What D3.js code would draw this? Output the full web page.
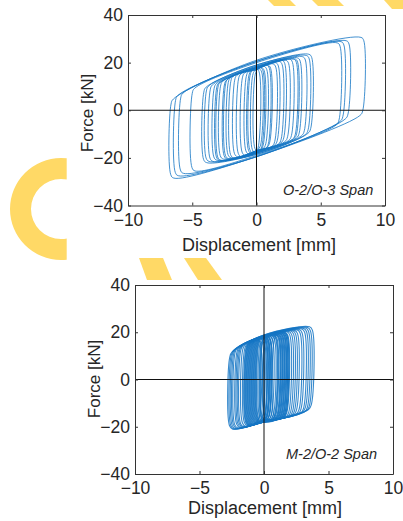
<!DOCTYPE html>
<html><head><meta charset="utf-8">
<script src="https://cdn.jsdelivr.net/npm/d3@7"></script>
<style>body{margin:0;background:#fff} svg{display:block}</style>
</head><body>
<svg id="c" width="403" height="521"></svg>
<script>
const xTicks = [-10, -5, 0, 5, 10];
const yTicks = [-40, -20, 0, 20, 40];
const xDomain = [-10, 10];
const yDomain = [-40, 40];
const xTitle = "Displacement [mm]";
const yTitle = "Force [kN]";
const panelLabels = ["O-2/O-3 Span", "M-2/O-2 Span"];

// each loop: [xLeft, xRight, yUpperLeft, yUpperAt0, yUpperRight, yLowerLeft, yLowerAt0, yLowerRight]
const loopsTop = [
  [-6.65, 8.35, 4, 21, 30.6, -28.5, -19.5, -1.5],
  [-6.3, 7.2, 5.5, 20.5, 29.2, -27.5, -19.5, -3],
  [-5.9, 6.8, 6.5, 20.5, 28.8, -26.5, -19.5, -4],
  [-5.0, 6.5, 8.5, 20, 28.3, -25.5, -19, -5.5],
  [-4.1, 4.3, 9, 19, 23.5, -22, -18.5, -9],
  [-3.9, 4.1, 9.5, 19, 23, -21.5, -18.5, -9.5],
  [-3.6, 3.8, 10, 18.5, 22.5, -21.5, -18, -10],
  [-3.3, 3.4, 10.5, 18.5, 22, -21, -18, -11],
  [-3.0, 3.1, 11, 18, 21.5, -21, -18, -11.5],
  [-2.8, 2.8, 11.5, 18, 21.5, -20.5, -17.5, -12],
  [-2.5, 2.5, 12, 18, 21, -20.5, -17.5, -12.5],
  [-2.2, 2.2, 13, 18, 21, -20, -17.5, -13],
  [-2.0, 2.0, 13.5, 17.5, 20.5, -20, -17, -13.5],
  [-1.7, 1.7, 14, 17.5, 20, -19.5, -17, -14],
  [-1.4, 1.5, 14.5, 17.5, 19.5, -19.5, -17, -14.5],
  [-1.1, 1.1, 15, 17, 19, -19, -17, -15],
  [-0.8, 0.8, 15.5, 17, 18.5, -18.5, -17, -15.5],
  [-0.5, 0.6, 16, 17, 18, -18, -17, -16],
  [-0.3, 0.4, 16, 17, 17.5, -18, -17, -16],
  [-0.1, 0.5, 16.5, 17, 18, -17.5, -17, -16.5],
  [-3.1, 1.0, 10.8, 18, 19, -21, -18, -15.5],
  [-2.4, 0.2, 12.5, 17.5, 17.6, -20.3, -17.5, -17.3],
  [-0.6, 3.2, 15.8, 17.5, 21.6, -18.3, -17.5, -11.3]
];

const loopsBottom = [
  [-2.65, 3.75, 11, 18.8, 22.3, -21, -18, -12],
  [-2.55, 3.6, 11.5, 18.8, 22, -21, -18, -12.5],
  [-2.45, 3.45, 12, 18.6, 21.8, -20.8, -18, -13],
  [-2.35, 3.3, 12.3, 18.6, 21.6, -20.6, -18, -13],
  [-2.25, 3.15, 12.6, 18.5, 21.4, -20.5, -18, -13.5],
  [-2.1, 2.95, 13, 18.5, 21.2, -20.3, -17.8, -13.8],
  [-2.0, 2.8, 13.2, 18.4, 21, -20.2, -17.8, -14],
  [-1.9, 2.6, 13.5, 18.4, 20.8, -20, -17.8, -14.3],
  [-1.8, 2.45, 13.8, 18.3, 20.6, -20, -17.7, -14.5],
  [-1.65, 2.3, 14, 18.3, 20.5, -19.8, -17.7, -14.8],
  [-1.5, 2.15, 14.3, 18.2, 20.3, -19.6, -17.6, -15],
  [-1.4, 2.0, 14.6, 18.2, 20.2, -19.5, -17.6, -15.2],
  [-1.3, 1.85, 14.8, 18.1, 20, -19.4, -17.5, -15.4],
  [-1.2, 1.7, 15, 18, 19.8, -19.2, -17.5, -15.6],
  [-1.1, 1.55, 15.3, 18, 19.6, -19, -17.4, -15.8],
  [-1.0, 1.4, 15.5, 17.9, 19.4, -18.9, -17.4, -16],
  [-0.9, 1.25, 15.8, 17.9, 19.2, -18.8, -17.3, -16.1],
  [-0.8, 1.1, 16, 17.8, 19, -18.6, -17.3, -16.2],
  [-0.7, 0.95, 16.2, 17.8, 18.8, -18.5, -17.2, -16.4],
  [-0.6, 0.8, 16.4, 17.7, 18.6, -18.3, -17.2, -16.5],
  [-0.5, 0.65, 16.6, 17.6, 18.4, -18.2, -17.1, -16.6],
  [-0.4, 0.5, 16.8, 17.5, 18.2, -18, -17, -16.7],
  [-0.3, 0.35, 17, 17.5, 18, -17.9, -17, -16.8],
  [-0.2, 0.25, 17, 17.4, 17.8, -17.8, -17, -16.9],
  [-1.15, 0.3, 15.2, 17.6, 18, -19.1, -17.4, -16.9],
  [-0.95, 0.15, 15.6, 17.6, 17.8, -18.9, -17.3, -17],
  [-0.1, 1.6, 17.2, 17.4, 19.7, -17.5, -17.2, -15.7],
  [0.05, 1.45, 17.4, 17.5, 19.5, -17.4, -17.3, -15.9],
  [0.2, 1.3, 17.6, 17.6, 19.3, -17.3, -17.3, -16],
  [0.35, 1.15, 17.8, 17.8, 19.1, -17.2, -17.2, -16.2],
  [0.5, 1.0, 18, 18, 18.9, -17, -17, -16.4],
  [-0.85, -0.05, 15.9, 17.3, 17.3, -18.7, -17.2, -17.2],
  [-0.65, 0.1, 16.3, 17.4, 17.6, -18.4, -17.2, -17.1],
  [0.65, 1.7, 18.2, 18.2, 19.8, -16.8, -16.8, -15.6],
  [-1.25, -0.3, 15, 17, 17, -19.3, -17.5, -17.5],
  [-1.35, 1.78, 14.7, 18.1, 19.9, -19.4, -17.5, -15.5],
  [-1.05, 1.62, 15.4, 18, 19.7, -19, -17.4, -15.7],
  [-0.75, 1.48, 16.1, 17.8, 19.5, -18.6, -17.3, -15.9],
  [-0.45, 1.33, 16.7, 17.7, 19.3, -18.1, -17.2, -16.1],
  [-0.15, 1.18, 17.1, 17.5, 19.1, -17.7, -17.2, -16.3],
  [0.1, 0.9, 17.5, 17.5, 18.8, -17.4, -17.3, -16.5],
  [0.8, 1.8, 18.4, 18.4, 20, -16.6, -16.6, -15.4],
  [-0.55, 0.45, 16.5, 17.5, 18.1, -18.2, -17.1, -16.8]
];

const svg = d3.select("#c");
const FONT = "'Liberation Sans', Arial, Helvetica, sans-serif";
const BLUE = "#1576c4";

const panels = [
  {l: 128, r: 385, t: 15, b: 205.5, loops: loopsTop, sw: 0.95, label: panelLabels[0], lx: 283, ly: 194.5, xt: 259, xtY: 251, ytX: 93, ytY: 113, tp: 8.5},
  {l: 135, r: 393, t: 285, b: 474, loops: loopsBottom, sw: 1.1, label: panelLabels[1], lx: 286, ly: 459, xt: 265, xtY: 514, ytX: 100, ytY: 379, tp: 8}
];

function loopPoints(d) {
  const [xL, xR, uL, u0, uR, lL, l0, lR] = d;
  const p = [];
  const mid = xL < -0.5 && xR > 0.5;
  p.push([xL, uL - 1.4]);
  p.push([xL + 0.18, uL + 0.7]);
  if (mid) p.push([0, u0]);
  p.push([xR - 0.22, uR]);
  p.push([xR, uR - 1.4]);
  p.push([xR - 0.08, lR + 1.4]);
  p.push([xR - 0.3, lR - 0.7]);
  if (mid) p.push([0, l0]);
  p.push([xL + 0.22, lL]);
  p.push([xL - 0.02, lL + 1.4]);
  return p;
}

panels.forEach(P => {
  const x = d3.scaleLinear().domain(xDomain).range([P.l, P.r]);
  const y = d3.scaleLinear().domain(yDomain).range([P.b, P.t]);
  const g = svg.append("g");

  const clipId = "clip" + P.t;
  svg.append("clipPath").attr("id", clipId).append("rect")
    .attr("x", P.l).attr("y", P.t).attr("width", P.r - P.l).attr("height", P.b - P.t);

  const line = d3.line().x(d => x(d[0])).y(d => y(d[1]))
    .curve(d3.curveCatmullRomClosed.alpha(0.5));

  g.append("g").attr("clip-path", `url(#${clipId})`)
    .selectAll("path").data(P.loops).join("path")
    .attr("d", d => line(loopPoints(d)))
    .attr("fill", "none").attr("stroke", BLUE)
    .attr("stroke-width", P.sw).attr("stroke-opacity", 0.85);

  g.append("line").attr("x1", x(0)).attr("x2", x(0)).attr("y1", P.t).attr("y2", P.b)
    .attr("stroke", "#111").attr("stroke-width", 1);
  g.append("line").attr("x1", P.l).attr("x2", P.r).attr("y1", y(0)).attr("y2", y(0))
    .attr("stroke", "#111").attr("stroke-width", 1);

  const styleAxis = sel => {
    sel.selectAll(".domain").attr("stroke", "#333").attr("stroke-width", 1);
    sel.selectAll(".tick line").attr("stroke", "#333");
    sel.selectAll("text").attr("fill", "#262626").attr("font-family", FONT).attr("font-size", 17.5);
  };

  g.append("g").attr("transform", `translate(0,${P.b})`)
    .call(d3.axisBottom(x).tickValues(xTicks).tickSizeInner(-3).tickSizeOuter(0).tickPadding(P.tp))
    .call(styleAxis);
  g.append("g").attr("transform", `translate(${P.l},0)`)
    .call(d3.axisLeft(y).tickValues(yTicks).tickSizeInner(-3).tickSizeOuter(0).tickPadding(5))
    .call(styleAxis);
  g.append("g").attr("transform", `translate(0,${P.t})`)
    .call(d3.axisTop(x).tickValues(xTicks).tickSizeInner(-3).tickSizeOuter(0).tickFormat(""))
    .call(styleAxis);
  g.append("g").attr("transform", `translate(${P.r},0)`)
    .call(d3.axisRight(y).tickValues(yTicks).tickSizeInner(-3).tickSizeOuter(0).tickFormat(""))
    .call(styleAxis);

  g.append("text").attr("x", P.xt).attr("y", P.xtY).attr("text-anchor", "middle")
    .attr("font-family", FONT).attr("font-size", 18).attr("fill", "#262626").text(xTitle);
  g.append("text").attr("transform", `translate(${P.ytX},${P.ytY}) rotate(-90)`)
    .attr("text-anchor", "middle")
    .attr("font-family", FONT).attr("font-size", 17).attr("fill", "#262626").text(yTitle);
  g.append("text").attr("x", P.lx).attr("y", P.ly)
    .attr("font-family", FONT).attr("font-size", 14.5).attr("font-style", "italic")
    .attr("fill", "#262626").text(P.label);
});

// watermark overlay
svg.append("clipPath").attr("id", "ringclip").append("rect")
  .attr("x", 0).attr("y", 0).attr("width", 66.7).attr("height", 521);
const wm = svg.append("g").attr("fill", "#ffd966");
wm.append("g").attr("clip-path", "url(#ringclip)")
  .append("path")
  .attr("transform", "translate(61,209)")
  .attr("d", d3.arc()({innerRadius: 30, outerRadius: 51, startAngle: 0, endAngle: 2 * Math.PI}));
const strips = [
  [[268, 0], [290, 0], [296, 6], [274, 6]],
  [[312, 0], [338, 0], [344, 6], [318, 6]],
  [[384, 0], [403, 0], [403, 9], [392, 9]],
  [[139, 258], [163, 258], [172, 280], [147, 280]],
  [[184, 258], [206, 258], [222, 280], [198, 280]]
];
wm.selectAll("polygon").data(strips).join("polygon")
  .attr("points", d => d.map(p => p.join(",")).join(" "));
</script>
</body></html>
